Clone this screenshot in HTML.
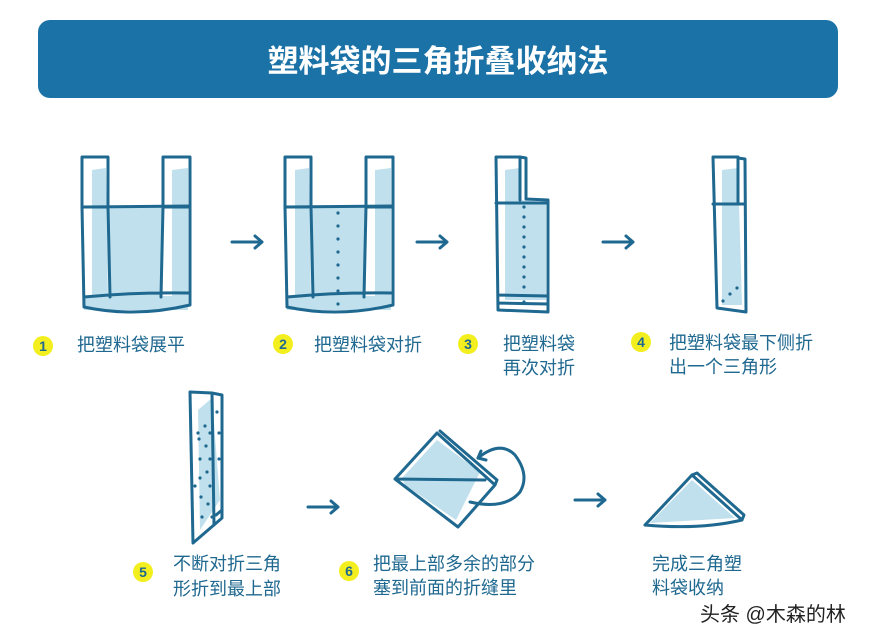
<!DOCTYPE html>
<html><head><meta charset="utf-8"><style>
html,body{margin:0;padding:0;background:#fff;}
svg{display:block}
text{font-family:"Liberation Sans","Noto Sans CJK SC",sans-serif;}
</style></head><body>
<svg width="880" height="643" viewBox="0 0 880 643" xmlns="http://www.w3.org/2000/svg">
<rect x="38" y="20" width="800" height="78" rx="12" fill="#1b72a6"/>
<text x="438" y="72" text-anchor="middle" font-size="31" font-weight="bold" fill="#fff">塑料袋的三角折叠收纳法</text>

<g stroke="#1f6890" stroke-width="3" fill="none" stroke-linejoin="round" stroke-linecap="round">
<g>
<path d="M92 170 L106 168 L108 300 L92 300Z M172 170 L188 168 L188 296 L172 296Z M108 207 L163 207 L161 297 L110 297Z M84 296 L188 296 L188 310 L84 310Z" fill="#bfe0ec" stroke="none"/>
<rect x="82" y="157" width="26" height="50"/><rect x="163" y="157" width="27" height="50"/>
<path d="M82 207 L190 206 L190 305 M82 207 L84 307 M108 207 L110 297 M163 207 L161 297 M84 297 Q135 292 190 293 M84 307 Q135 318 190 305"/>
</g>
<g>
<path d="M295 170 L309 168 L311 300 L295 300Z M375 170 L391 168 L391 296 L375 296Z M311 207 L366 207 L364 297 L313 297Z M287 296 L391 296 L391 310 L287 310Z" fill="#bfe0ec" stroke="none"/>
<rect x="285" y="157" width="26" height="50"/><rect x="366" y="157" width="27" height="50"/>
<path d="M285 207 L393 206 L393 305 M285 207 L287 307 M311 207 L313 297 M366 207 L364 297 M287 297 Q338 292 393 293 M287 307 Q338 318 393 305"/>
</g>
<g>
<path d="M505 170 L520 168 L520 200 L546 202 L546 300 L505 300Z" fill="#bfe0ec" stroke="none"/>
<path d="M496 157 L520 157 L520 200 M520 157 L526 158 L526 199 L548 200 L548 312 L498 310 L496 157 M496 203 L548 203 M498 295 L548 296 M498 303 L548 304"/>
</g>
<g>
<path d="M722 170 L738 168 L742 305 L722 305Z" fill="#bfe0ec" stroke="none"/>
<path d="M713 157 L738 157 L738 204 M738 158 L745 159 L746 312 L717 308 L713 157 M713 204 L745 204"/>
</g>
<g>
<path d="M198 410 L212 398 L220 500 L200 530Z" fill="#bfe0ec" stroke="none"/>
<path d="M190 392 L212 393 L222 395 L222 518 L193 543 L190 392 M212 393 L214 525 M216 515 L222 510"/>
</g>
<g>
<path d="M402 478 L437 440 L480 472 L456 520 L405 485Z" fill="#bfe0ec" stroke="none"/>
<path d="M437 433 L395 479 L458 527 L495 485 L437 433 M440 431 L497 480 L495 485 M395 479 L485 480"/>
<path d="M478 458 Q500 440 515 455 Q530 475 520 492 Q505 510 470 502"/>
<path d="M478 458 L481 451 M478 458 L486 460"/>
</g>
<g>
<path d="M650 523 L692 480 L735 518Z" fill="#bfe0ec" stroke="none"/>
<path d="M645 525 L692 475 L742 520 Q700 530 645 525 M692 475 L697 473 L744 515 L742 520"/>
</g>
<path d="M232 242 L262 242 M255 236 L262 242 L255 248"/>
<path d="M417 242 L447 242 M440 236 L447 242 L440 248"/>
<path d="M603 242 L633 242 M626 236 L633 242 L626 248"/>
<path d="M308 507 L338 507 M331 501 L338 507 L331 513"/>
<path d="M575 500 L605 500 M598 494 L605 500 L598 506"/>
</g>
<g fill="#1f6890">
<circle cx="338" cy="213" r="1.6"/><circle cx="338" cy="226" r="1.6"/><circle cx="338" cy="239" r="1.6"/><circle cx="338" cy="252" r="1.6"/><circle cx="338" cy="265" r="1.6"/><circle cx="338" cy="278" r="1.6"/><circle cx="338" cy="291" r="1.6"/><circle cx="338" cy="304" r="1.6"/>
<circle cx="524" cy="207" r="1.6"/><circle cx="524" cy="217" r="1.6"/><circle cx="524" cy="227" r="1.6"/><circle cx="524" cy="237" r="1.6"/><circle cx="524" cy="247" r="1.6"/><circle cx="524" cy="257" r="1.6"/><circle cx="524" cy="267" r="1.6"/><circle cx="524" cy="277" r="1.6"/><circle cx="524" cy="287" r="1.6"/><circle cx="524" cy="302" r="1.6"/>
<circle cx="723" cy="301" r="1.6"/><circle cx="730" cy="294" r="1.6"/><circle cx="737" cy="288" r="1.6"/>
<circle cx="217" cy="412" r="1.6"/><circle cx="205" cy="426" r="1.6"/><circle cx="198" cy="433" r="1.6"/><circle cx="210" cy="433" r="1.6"/><circle cx="219" cy="433" r="1.6"/><circle cx="199" cy="439" r="1.6"/><circle cx="206" cy="446" r="1.6"/><circle cx="200" cy="459" r="1.6"/><circle cx="210" cy="459" r="1.6"/><circle cx="219" cy="459" r="1.6"/><circle cx="207" cy="472" r="1.6"/><circle cx="200" cy="478" r="1.6"/><circle cx="195" cy="486" r="1.6"/><circle cx="210" cy="486" r="1.6"/><circle cx="201" cy="497" r="1.6"/><circle cx="208" cy="504" r="1.6"/><circle cx="202" cy="517" r="1.6"/><circle cx="212" cy="517" r="1.6"/>
</g>
<g font-size="14" font-weight="bold" fill="#1f6890" text-anchor="middle">
<circle cx="43" cy="346" r="10" fill="#f3ef1f"/><text x="43" y="351">1</text>
<circle cx="283" cy="344" r="10" fill="#f3ef1f"/><text x="283" y="349">2</text>
<circle cx="468" cy="344" r="10" fill="#f3ef1f"/><text x="468" y="349">3</text>
<circle cx="641" cy="342" r="10" fill="#f3ef1f"/><text x="641" y="347">4</text>
<circle cx="143" cy="572" r="10" fill="#f3ef1f"/><text x="143" y="577">5</text>
<circle cx="349" cy="571" r="10" fill="#f3ef1f"/><text x="349" y="576">6</text>
</g>
<g font-size="18" fill="#1f6890">
<text x="77" y="351">把塑料袋展平</text>
<text x="314" y="351">把塑料袋对折</text>
<text x="503" y="350">把塑料袋</text><text x="503" y="374">再次对折</text>
<text x="669" y="349">把塑料袋最下侧折</text><text x="669" y="373">出一个三角形</text>
<text x="173" y="570">不断对折三角</text><text x="173" y="595">形折到最上部</text>
<text x="373" y="570">把最上部多余的部分</text><text x="373" y="594">塞到前面的折缝里</text>
<text x="652" y="570">完成三角塑</text><text x="652" y="594">料袋收纳</text>
</g>
<text x="700" y="621" font-size="20" fill="#222">头条 @木森的林</text>
</svg>
</body></html>
